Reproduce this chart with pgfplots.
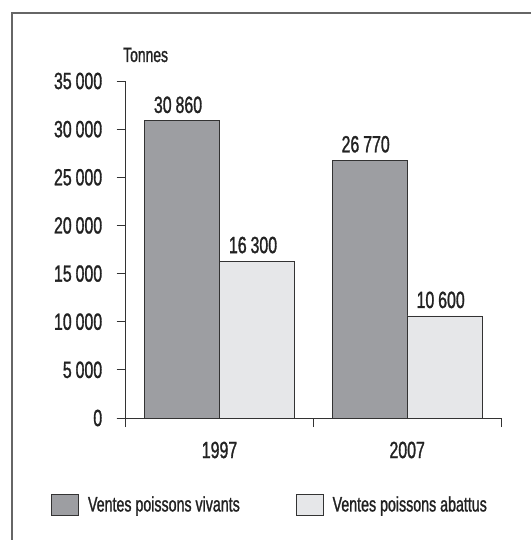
\documentclass[border=0pt]{standalone}
\usepackage{fontspec}
\setmainfont{Liberation Sans}[FakeStretch=0.68, FakeBold=1.2]
\usepackage{pgfplots}
\pgfplotsset{compat=1.18}
\definecolor{darkbar}{HTML}{9D9EA2}
\definecolor{lightbar}{HTML}{E6E7E9}
\definecolor{framec}{HTML}{666666}
\definecolor{txt}{HTML}{222222}
\begin{document}
\begin{tikzpicture}[x=1bp,y=1bp]
\useasboundingbox (0,0) rectangle (531,-540);
\draw[framec, line width=1.2bp] (12,-540) -- (12,-13) -- (531,-13);
\begin{axis}[
  at={(125.7bp,-418bp)}, anchor=south west,
  scale only axis, width=375.3bp, height=337bp,
  xmin=-0.5, xmax=1.5, ymin=0, ymax=35000,
  axis x line*=bottom, axis y line*=left,
  axis line style={black!80, line width=0.8bp},
  ybar=0pt, bar width=75bp,
  xtick={-0.5,0.5,1.5}, xticklabels={},
  ytick={0,5000,...,35000}, scaled y ticks=false,
  tick align=outside, major tick length=9bp,
  tick style={black!80, line width=0.8bp},
  yticklabel style={font=\fontsize{23.5}{25}\selectfont, text=txt, xshift=-11bp},
  /pgf/number format/assume math mode=true,
  /pgf/number format/1000 sep={\,},
  clip=false,
  nodes near coords,
  nodes near coords style={font=\fontsize{23.5}{25}\selectfont, text=txt, yshift=4bp, xshift=-4bp},
  legend columns=2,
  legend style={at={(-0.199,-0.257)}, anchor=west, draw=none, fill=none,
    font=\fontsize{21}{23}\selectfont, text=txt, inner sep=0pt,
    /tikz/every even column/.append style={column sep=54bp}},
  legend image code/.code={\draw[#1, draw=black!80, line width=0.8bp] (0bp,-10.5bp) rectangle (27bp,10.5bp);},
]
\addplot[fill=darkbar, draw=black!80, line width=0.8bp] coordinates {(0,30860) (1,26770)};
\addplot[fill=lightbar, draw=black!80, line width=0.8bp] coordinates {(0,16300) (1,10600)};
\legend{\hspace{7bp}Ventes poissons vivants, \hspace{7bp}Ventes poissons abattus}
\draw[black!80, line width=0.8bp] ([xshift=-9bp]axis cs:-0.5,0) -- (axis cs:-0.5,0);
\node[font=\fontsize{23.5}{25}\selectfont, text=txt] at ([yshift=-32bp]axis cs:0,0) {1997};
\node[font=\fontsize{23.5}{25}\selectfont, text=txt] at ([yshift=-32bp]axis cs:1,0) {2007};
\node[font=\fontsize{20.5}{22}\selectfont, text=txt, anchor=west] at ([xshift=-6bp,yshift=26bp]axis cs:-0.5,35000) {Tonnes};
\end{axis}
\end{tikzpicture}
\end{document}
